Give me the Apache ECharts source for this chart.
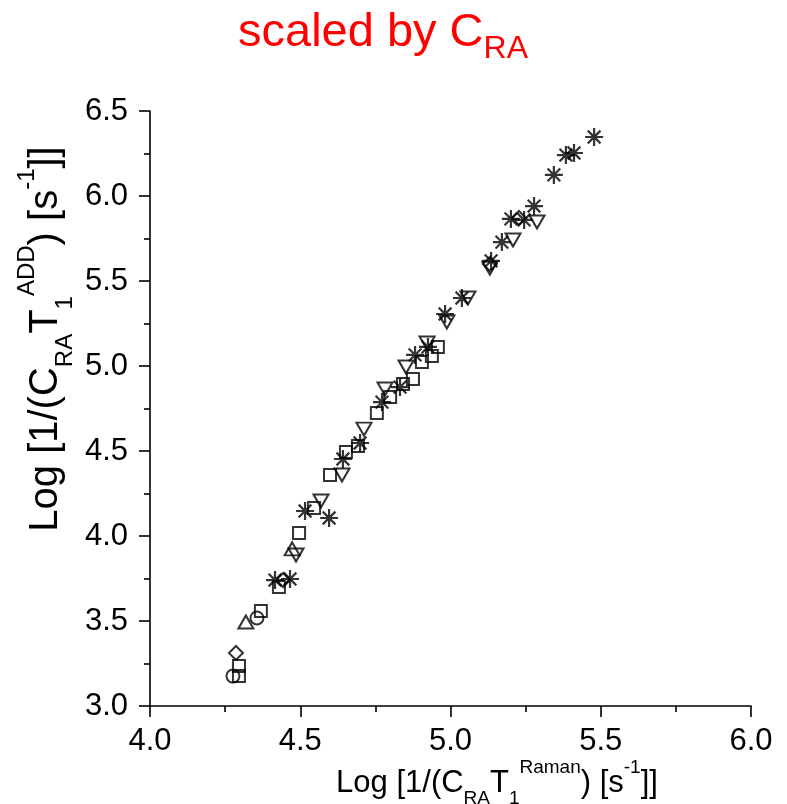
<!DOCTYPE html>
<html>
<head>
<meta charset="utf-8">
<script src="https://cdn.jsdelivr.net/npm/echarts@6/dist/echarts.min.js"></script>
<style>
html, body { margin: 0; padding: 0; background: #fff; }
#chart { width: 787px; height: 804px; }
</style>
</head>
<body>
<div id="chart"></div>
<script>
// values, [x, y]
const asteriskPts = [
    [4.416, 3.741], [4.466, 3.747], [4.516, 4.147], [4.596, 4.106], [4.642, 4.453],
    [4.699, 4.547], [4.772, 4.788], [4.832, 4.876], [4.882, 5.065], [4.925, 5.112],
    [4.982, 5.306], [5.038, 5.400], [5.135, 5.618], [5.171, 5.729], [5.201, 5.865],
    [5.245, 5.859], [5.278, 5.941], [5.344, 6.124], [5.384, 6.241], [5.411, 6.253],
    [5.478, 6.347]
]
const squarePts = [
    [4.296, 3.235], [4.296, 3.176], [4.369, 3.559], [4.429, 3.700], [4.496, 4.018],
    [4.546, 4.165], [4.599, 4.359], [4.652, 4.494], [4.692, 4.529], [4.755, 4.724],
    [4.799, 4.818], [4.842, 4.894], [4.875, 4.924], [4.905, 5.024], [4.938, 5.059],
    [4.958, 5.112]
]
const triDownPts = [
    [4.486, 3.888], [4.569, 4.206], [4.639, 4.359], [4.712, 4.629], [4.782, 4.865],
    [4.852, 4.994], [4.922, 5.135], [4.988, 5.259], [5.058, 5.400], [5.131, 5.576],
    [5.208, 5.741], [5.288, 5.847]
]
const triUpPts = [[4.319, 3.494], [4.473, 3.924]]
const circlePts = [[4.276, 3.176], [4.356, 3.518]]
const diamondPts = [[4.286, 3.312], [4.443, 3.741], [5.131, 5.600], [5.228, 5.871]]

const xTicks = { min: 4, max: 6, step: 0.5 }
const yTicks = { min: 3, max: 6.5, step: 0.5 }

const font = '"Liberation Sans", Arial, sans-serif'
const ink = '#000'
const asteriskPath = 'path://M0,-8L0,8M-8,0L8,0M-5.66,-5.66L5.66,5.66M-5.66,5.66L5.66,-5.66'

let chart = echarts.init(document.getElementById('chart'))

// hollow black marks
function markSeries(data, symbol, size, rotate, lw){
    return {
        type: 'scatter',
        data: data,
        symbol: symbol,
        symbolSize: size,
        symbolRotate: rotate || 0,
        itemStyle: {
            color: 'rgba(0,0,0,0)',
            borderColor: ink,
            borderWidth: lw || 2
        },
        emphasis: { disabled: true }
    }
}

function axisCommon(t){
    return {
        type: 'value',
        min: t.min,
        max: t.max,
        interval: t.step,
        splitLine: { show: false },
        axisLine: { show: true, onZero: false, lineStyle: { color: ink, width: 1.6 } },
        axisTick: { show: true, inside: false, length: 11, lineStyle: { color: ink, width: 1.6 } },
        minorTick: { show: true, splitNumber: 2, length: 6, lineStyle: { color: ink, width: 1.6 } },
        axisLabel: {
            color: ink,
            fontSize: 31,
            fontFamily: font,
            formatter: v => v.toFixed(1)
        }
    }
}

let xAxis = axisCommon(xTicks)
xAxis.axisLabel.margin = 20
let yAxis = axisCommon(yTicks)
yAxis.axisLabel.margin = 22

// rich text styles for names with sub/superscripts
function richStyles(main, small, lineH, color){
    return {
        m: { fontSize: main, fontFamily: font, fill: color, verticalAlign: 'middle', lineHeight: lineH },
        sub: { fontSize: small, fontFamily: font, fill: color, verticalAlign: 'bottom', lineHeight: small },
        sup: { fontSize: small, fontFamily: font, fill: color, verticalAlign: 'top', lineHeight: small }
    }
}

let option = {
    animation: false,
    backgroundColor: '#fff',
    grid: { left: 150, right: 36, top: 111, bottom: 98 },
    xAxis: xAxis,
    yAxis: yAxis,
    graphic: [
        {
            type: 'text',
            x: 383, y: 33,
            style: {
                text: '{m|scaled by C}{sub|RA}',
                align: 'center', verticalAlign: 'middle',
                rich: richStyles(47, 32, 64, '#ff0000')
            }
        },
        {
            type: 'text',
            x: 497, y: 783,
            style: {
                text: '{m|Log [1/(C}{sub|RA}{m|T}{sub|1}{sup|Raman}{m|) [s}{sup|-1}{m|]]}',
                align: 'center', verticalAlign: 'middle',
                rich: richStyles(31, 19, 50, ink)
            }
        },
        {
            type: 'text',
            x: 46, y: 339,
            rotation: Math.PI / 2,
            style: {
                text: '{m|Log [1/(C}{sub|RA}{m|T}{sub|1}{sup|ADD}{m|) [s}{sup|-1}{m|]]}',
                align: 'center', verticalAlign: 'middle',
                rich: richStyles(40, 24, 62, ink)
            }
        }
    ],
    series: [
        markSeries(squarePts, 'rect', 12),
        markSeries(circlePts, 'circle', 13),
        markSeries(diamondPts, 'diamond', [14, 14]),
        markSeries(triUpPts, 'triangle', [15, 13]),
        markSeries(triDownPts, 'triangle', [15, 13], 180),
        markSeries(asteriskPts, asteriskPath, 18, 0, 2.2)
    ]
}

chart.setOption(option)
</script>
</body>
</html>
